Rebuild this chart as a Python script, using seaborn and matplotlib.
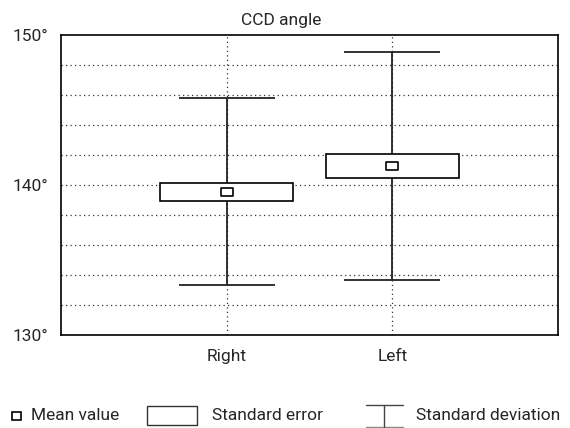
import matplotlib
matplotlib.use("Agg")
import matplotlib.pyplot as plt
from matplotlib.patches import Rectangle
from matplotlib.lines import Line2D
from matplotlib.path import Path
import numpy as np
import pandas as pd
import seaborn as sns

categories = ["Right", "Left"]
mean_vals = [139.55, 141.25]
se_low = [138.95, 140.45]
se_high = [140.15, 142.05]
sd_low = [133.35, 133.65]
sd_high = [145.8, 148.85]
title = "CCD angle"
ytick_vals = [130, 140, 150]
ytick_labels = ["130°", "140°", "150°"]
legend_labels = ["Mean value", "Standard error", "Standard deviation"]

sns.set_style("white")
plt.rcParams["font.family"] = ["Roboto", "DejaVu Sans"]
FS = 12.5

fig = plt.figure(figsize=(5.7, 4.28), dpi=100)
ax = fig.add_axes([61/570, 1-335/428, (558-61)/570, 300/428])

pos = np.arange(len(categories))
df = pd.DataFrame({"pos": pos, "mean": mean_vals, "cat": categories})

# grid
ax.set_ylim(130, 150)
ax.set_xlim(-1, len(categories))
for y in np.arange(132, 150, 2):
    ax.axhline(y, color="#333333", lw=0.9, ls=(0, (1, 2.6)), zorder=0)
for p in pos:
    ax.axvline(p, color="#333333", lw=0.9, ls=(0, (1, 2.6)), zorder=0)

# SD whiskers
ax.vlines(pos, sd_low, sd_high, color="#222222", lw=1.3, zorder=2)
ax.hlines(sd_low, pos - 0.29, pos + 0.29, color="#222222", lw=1.3, zorder=2)
ax.hlines(sd_high, pos - 0.29, pos + 0.29, color="#222222", lw=1.3, zorder=2)

# SE boxes
ax.bar(pos, np.array(se_high) - np.array(se_low), bottom=se_low, width=0.8,
       color="white", edgecolor="black", lw=1.2, zorder=3)

# mean markers
rect_marker = Path([(-1, -0.72), (1, -0.72), (1, 0.72), (-1, 0.72), (-1, -0.72)],
                   [Path.MOVETO, Path.LINETO, Path.LINETO, Path.LINETO, Path.CLOSEPOLY])
sns.scatterplot(data=df, x="pos", y="mean", marker=rect_marker, s=80,
                color="white", edgecolor="black", linewidth=1.2, zorder=4, ax=ax, legend=False)

ax.set_xticks(pos)
ax.set_xticklabels(categories, fontsize=FS)
ax.set_yticks(ytick_vals)
ax.set_yticklabels(ytick_labels, fontsize=FS)
ax.tick_params(axis="y", length=0, pad=9)
ax.tick_params(axis="x", length=0, pad=10)
ax.set_xlabel("")
ax.set_ylabel("")
for s in ax.spines.values():
    s.set_visible(True)
    s.set_color("black")
    s.set_linewidth(1.2)

W, H = 570, 428
def fx(x): return x / W
def fy(y): return 1 - y / H

fig.text(fx(281), fy(21), title, fontsize=FS, ha="center", va="center")

# legend drawn in figure pixel coords
ly = 416
fig.add_artist(Rectangle((fx(12), fy(420)), 9/W, 8/H, transform=fig.transFigure,
                         fill=False, edgecolor="black", lw=1.2))
fig.text(fx(31), fy(ly), legend_labels[0], fontsize=FS, va="center", ha="left")
fig.add_artist(Rectangle((fx(147), fy(425)), 50/W, 19/H, transform=fig.transFigure,
                         fill=False, edgecolor="#333333", lw=1.0))
fig.text(fx(212), fy(ly), legend_labels[1], fontsize=FS, va="center", ha="left")
fig.add_artist(Line2D([fx(366), fx(403)], [fy(405), fy(405)], transform=fig.transFigure,
                      color="#444444", lw=1.0))
fig.add_artist(Line2D([fx(366), fx(403)], [fy(427), fy(427)], transform=fig.transFigure,
                      color="#888888", lw=1.0))
fig.add_artist(Line2D([fx(384), fx(384)], [fy(405), fy(427)], transform=fig.transFigure,
                      color="#444444", lw=1.0))
fig.text(fx(416), fy(ly), legend_labels[2], fontsize=FS, va="center", ha="left")

fig.savefig("out.png", dpi=100, facecolor="white")
